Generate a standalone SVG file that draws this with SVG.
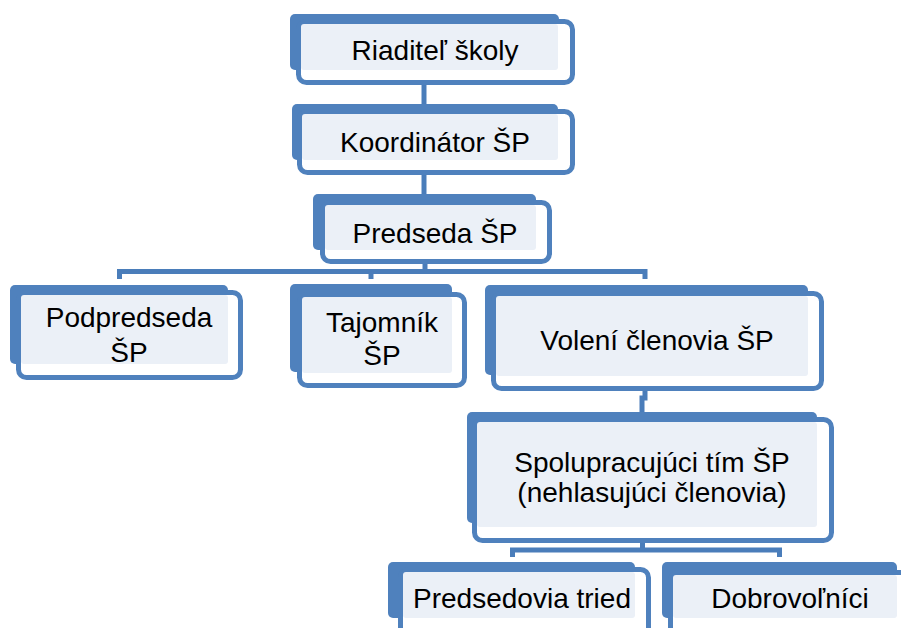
<svg xmlns="http://www.w3.org/2000/svg" width="901" height="628" viewBox="0 0 901 628">
<style>
.b{fill:#4F81BD}
.o{fill:#FFFFFF;stroke:#4F81BD;stroke-width:5}
.l{fill:#EBF0F7}
.t{font-family:"Liberation Sans",Arial,sans-serif;font-size:28px;fill:#000;text-anchor:middle}
.c{fill:none;stroke:#4A7DBA;stroke-width:5}
</style>
<rect width="901" height="628" fill="#FFFFFF"/>
<g id="connectors">
<path class="c" d="M424,84 V106"/>
<path class="c" d="M424,174 V196"/>
<path class="c" d="M425,263 V272"/>
<path class="c" d="M119.5,279 V271.5 H645 V279"/>
<path class="c" d="M371,271.5 V279"/>
<path class="c" d="M645,389 V398 H642 V414"/>
<path class="c" d="M642.5,541 V550"/>
<path class="c" d="M512.5,557 V550 H779.5 V557"/>
</g>
<g id="n1">
<rect class="b" x="290" y="14" width="269" height="56" rx="5"/>
<rect class="o" x="298.5" y="21.5" width="274" height="61" rx="8"/>
<rect class="l" x="301" y="24" width="257" height="46" rx="3"/>
<text class="t" x="435" y="60">Riaditeľ školy</text>
</g>
<g id="n2">
<rect class="b" x="292" y="104" width="266" height="56" rx="5"/>
<rect class="o" x="299.5" y="111.5" width="273" height="61" rx="8"/>
<rect class="l" x="302" y="114" width="256" height="46" rx="3"/>
<text class="t" x="435" y="152">Koordinátor ŠP</text>
</g>
<g id="n3">
<rect class="b" x="313" y="194" width="223" height="56" rx="5"/>
<rect class="o" x="322.5" y="202.5" width="227" height="59" rx="8"/>
<rect class="l" x="325" y="205" width="211" height="45" rx="3"/>
<text class="t" x="435" y="243">Predseda ŠP</text>
</g>
<g id="n4">
<rect class="b" x="10" y="285" width="218" height="79" rx="5"/>
<rect class="o" x="18.5" y="292.5" width="222" height="85" rx="8"/>
<rect class="l" x="21" y="295" width="207" height="69" rx="3"/>
<text class="t" x="129" y="327">Podpredseda</text>
<text class="t" x="129" y="362">ŠP</text>
</g>
<g id="n5">
<rect class="b" x="290" y="284" width="162" height="88" rx="5"/>
<rect class="o" x="299.5" y="294.5" width="165" height="91" rx="8"/>
<rect class="l" x="302" y="297" width="150" height="76" rx="3"/>
<text class="t" x="382" y="332">Tajomník</text>
<text class="t" x="382" y="365">ŠP</text>
</g>
<g id="n6">
<rect class="b" x="485" y="285" width="323" height="90" rx="5"/>
<rect class="o" x="493.5" y="293.5" width="328" height="95" rx="8"/>
<rect class="l" x="496" y="296" width="312" height="80" rx="3"/>
<text class="t" x="657" y="350">Volení členovia ŠP</text>
</g>
<g id="n7">
<rect class="b" x="467" y="412" width="350" height="111" rx="5"/>
<rect class="o" x="474.5" y="419.5" width="357" height="121" rx="8"/>
<rect class="l" x="477" y="422" width="340" height="105" rx="3"/>
<text class="t" x="652" y="472">Spolupracujúci tím ŠP</text>
<text class="t" x="652" y="502">(nehlasujúci členovia)</text>
</g>
<g id="n8">
<rect class="b" x="388" y="562" width="247" height="56" rx="5"/>
<rect class="o" x="400.5" y="569.5" width="248" height="75" rx="8"/>
<rect class="l" x="403" y="572" width="232" height="46" rx="3"/>
<text class="t" x="522" y="608">Predsedovia tried</text>
</g>
<g id="n9">
<rect class="b" x="662" y="562" width="235" height="56" rx="5"/>
<rect class="o" x="670.5" y="572.5" width="239" height="75" rx="8"/>
<rect class="l" x="673" y="575" width="224" height="43" rx="3"/>
<text class="t" x="790" y="608">Dobrovoľníci</text>
</g>
</svg>
